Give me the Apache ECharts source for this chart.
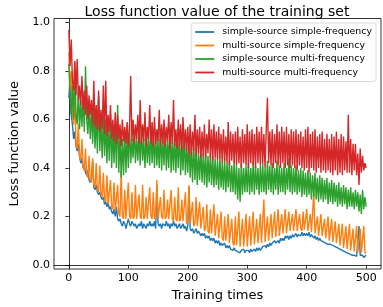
<!DOCTYPE html>
<html><head><meta charset="utf-8">
<script src="https://cdn.jsdelivr.net/npm/echarts@6/dist/echarts.min.js"></script>
<style>html,body{margin:0;padding:0;background:#fff}#c{width:383px;height:307px}</style>
</head><body><div id="c"></div>
<script>
const times = [0,2,4,6,8,10,12,14,16,18,20,22,24,26,28,30,32,34,36,38,
40,42,44,46,48,50,52,54,56,58,60,62,64,66,68,70,72,74,76,78,
80,82,84,86,88,90,92,94,96,98,100,102,104,106,108,110,112,114,116,118,
120,122,124,126,128,130,132,134,136,138,140,142,144,146,148,150,152,154,156,158,
160,162,164,166,168,170,172,174,176,178,180,182,184,186,188,190,192,194,196,198,
200,202,204,206,208,210,212,214,216,218,220,222,224,226,228,230,232,234,236,238,
240,242,244,246,248,250,252,254,256,258,260,262,264,266,268,270,272,274,276,278,
280,282,284,286,288,290,292,294,296,298,300,302,304,306,308,310,312,314,316,318,
320,322,324,326,328,330,332,334,336,338,340,342,344,346,348,350,352,354,356,358,
360,362,364,366,368,370,372,374,376,378,380,382,384,386,388,390,392,394,396,398,
400,402,404,406,408,410,412,414,416,418,420,422,424,426,428,430,432,434,436,438,
440,442,444,446,448,450,452,454,456,458,460,462,464,466,468,470,472,474,476,478,
480,482,484,486,488,490,492,494,496,498,500];
const seriesNames = ['simple-source simple-frequency','multi-source simple-frequency','simple-source multi-frequency','multi-source multi-frequency'];
const ssSf = [0.69,0.78,0.62,0.58,0.52,0.55,0.49,0.47,0.50,0.45,
0.42,0.44,0.40,0.41,0.38,0.37,0.39,0.35,0.34,0.36,
0.43,0.32,0.31,0.33,0.30,0.29,0.30,0.28,0.27,0.28,
0.25,0.26,0.24,0.26,0.23,0.24,0.22,0.21,0.23,0.20,
0.24,0.19,0.18,0.19,0.17,0.16,0.18,0.17,0.15,0.17,
0.19,0.17,0.16,0.18,0.17,0.16,0.17,0.15,0.16,0.17,
0.16,0.18,0.15,0.17,0.16,0.15,0.17,0.16,0.18,0.16,
0.17,0.16,0.18,0.15,0.33,0.17,0.16,0.17,0.15,0.17,
0.17,0.16,0.18,0.16,0.17,0.15,0.17,0.16,0.18,0.16,
0.17,0.15,0.16,0.17,0.15,0.16,0.17,0.15,0.16,0.14,
0.16,0.32,0.15,0.14,0.15,0.13,0.14,0.15,0.13,0.14,
0.14,0.12,0.13,0.12,0.13,0.11,0.12,0.11,0.12,0.10,
0.11,0.10,0.11,0.09,0.10,0.09,0.10,0.08,0.09,0.08,
0.08,0.09,0.07,0.08,0.07,0.08,0.065,0.07,0.06,0.07,
0.06,0.065,0.055,0.06,0.05,0.06,0.055,0.065,0.05,0.06,
0.055,0.06,0.05,0.065,0.055,0.06,0.065,0.055,0.07,0.06,
0.07,0.06,0.065,0.075,0.07,0.08,0.07,0.085,0.075,0.09,
0.08,0.09,0.085,0.10,0.09,0.095,0.10,0.09,0.11,0.10,
0.11,0.10,0.12,0.11,0.12,0.105,0.12,0.11,0.125,0.115,
0.12,0.13,0.115,0.125,0.13,0.12,0.135,0.12,0.13,0.12,
0.13,0.12,0.135,0.115,0.125,0.12,0.11,0.12,0.105,0.115,
0.10,0.11,0.10,0.105,0.095,0.10,0.09,0.095,0.085,0.09,
0.085,0.09,0.08,0.085,0.075,0.08,0.07,0.075,0.065,0.07,
0.06,0.065,0.055,0.06,0.05,0.055,0.045,0.05,0.04,0.045,
0.04,0.045,0.035,0.04,0.16,0.04,0.035,0.04,0.03,0.035,
0.04];
const msSf = [0.88,0.72,0.80,0.62,0.58,0.70,0.50,0.48,0.58,0.45,
0.43,0.52,0.40,0.39,0.48,0.37,0.36,0.45,0.35,0.34,
0.44,0.33,0.32,0.42,0.31,0.30,0.41,0.29,0.28,0.38,
0.27,0.26,0.37,0.25,0.25,0.35,0.24,0.23,0.34,0.22,
0.22,0.33,0.21,0.20,0.39,0.20,0.19,0.31,0.19,0.19,
0.34,0.20,0.19,0.30,0.19,0.20,0.33,0.19,0.19,0.29,
0.20,0.19,0.33,0.19,0.20,0.28,0.19,0.19,0.32,0.20,
0.19,0.30,0.19,0.20,0.35,0.19,0.19,0.28,0.20,0.19,
0.31,0.19,0.20,0.27,0.19,0.19,0.31,0.19,0.18,0.28,
0.19,0.18,0.32,0.18,0.19,0.27,0.18,0.18,0.30,0.17,
0.18,0.33,0.17,0.17,0.26,0.16,0.17,0.28,0.16,0.16,
0.26,0.15,0.15,0.24,0.14,0.15,0.25,0.14,0.13,0.23,
0.13,0.13,0.25,0.12,0.12,0.21,0.11,0.11,0.22,0.11,
0.10,0.20,0.10,0.10,0.21,0.09,0.09,0.19,0.09,0.08,
0.20,0.08,0.08,0.22,0.075,0.08,0.19,0.075,0.08,0.21,
0.075,0.08,0.20,0.08,0.08,0.22,0.085,0.08,0.19,0.09,
0.085,0.21,0.09,0.09,0.27,0.095,0.10,0.20,0.10,0.105,
0.21,0.11,0.11,0.22,0.115,0.12,0.23,0.12,0.125,0.21,
0.13,0.13,0.23,0.13,0.135,0.22,0.14,0.14,0.21,0.14,
0.145,0.23,0.14,0.145,0.21,0.15,0.14,0.22,0.145,0.14,
0.23,0.14,0.14,0.21,0.135,0.13,0.30,0.13,0.13,0.20,
0.12,0.125,0.21,0.12,0.115,0.19,0.11,0.11,0.20,0.10,
0.10,0.19,0.095,0.09,0.18,0.09,0.085,0.17,0.08,0.075,
0.17,0.07,0.07,0.16,0.065,0.06,0.17,0.06,0.055,0.15,
0.055,0.05,0.16,0.05,0.045,0.15,0.05,0.045,0.16,0.05,
0.05];
const ssMf = [0.83,0.70,0.62,0.74,0.60,0.84,0.62,0.58,0.72,0.56,
0.68,0.57,0.70,0.55,0.82,0.60,0.54,0.66,0.52,0.64,
0.50,0.65,0.48,0.62,0.46,0.70,0.47,0.60,0.44,0.62,
0.45,0.60,0.42,0.58,0.43,0.62,0.40,0.56,0.42,0.58,
0.40,0.66,0.38,0.55,0.36,0.52,0.37,0.56,0.38,0.54,
0.40,0.58,0.42,0.52,0.44,0.56,0.42,0.53,0.43,0.55,
0.41,0.57,0.43,0.52,0.40,0.55,0.42,0.53,0.41,0.56,
0.42,0.54,0.40,0.55,0.41,0.52,0.40,0.56,0.39,0.53,
0.41,0.55,0.39,0.52,0.40,0.57,0.38,0.52,0.39,0.54,
0.38,0.53,0.40,0.56,0.37,0.51,0.39,0.54,0.37,0.50,
0.38,0.51,0.36,0.49,0.34,0.50,0.35,0.48,0.33,0.47,
0.35,0.48,0.34,0.46,0.33,0.47,0.32,0.45,0.34,0.46,
0.33,0.45,0.32,0.44,0.33,0.43,0.31,0.45,0.32,0.42,
0.31,0.44,0.30,0.42,0.32,0.43,0.30,0.41,0.30,0.43,
0.29,0.41,0.27,0.40,0.26,0.42,0.29,0.40,0.30,0.41,
0.30,0.42,0.29,0.40,0.30,0.43,0.29,0.41,0.31,0.40,
0.29,0.41,0.30,0.42,0.30,0.40,0.29,0.43,0.31,0.41,
0.30,0.42,0.29,0.40,0.31,0.43,0.29,0.41,0.30,0.40,
0.30,0.42,0.29,0.40,0.31,0.44,0.30,0.41,0.29,0.40,
0.30,0.41,0.29,0.39,0.30,0.40,0.28,0.39,0.29,0.38,
0.28,0.39,0.29,0.38,0.27,0.37,0.28,0.38,0.27,0.36,
0.26,0.37,0.27,0.36,0.26,0.35,0.27,0.36,0.25,0.34,
0.26,0.35,0.25,0.34,0.26,0.33,0.24,0.34,0.25,0.32,
0.24,0.33,0.25,0.32,0.23,0.31,0.24,0.32,0.24,0.30,
0.23,0.31,0.24,0.30,0.22,0.29,0.21,0.31,0.23,0.28,
0.24];
const msMf = [0.97,0.82,0.93,0.76,0.72,0.84,0.70,0.85,0.68,0.74,
0.66,0.78,0.64,0.72,0.62,0.74,0.60,0.70,0.62,0.68,
0.58,0.76,0.57,0.66,0.56,0.72,0.55,0.64,0.56,0.74,
0.54,0.76,0.53,0.62,0.55,0.66,0.52,0.60,0.51,0.63,
0.50,0.62,0.52,0.58,0.49,0.60,0.51,0.57,0.50,0.59,
0.49,0.56,0.78,0.51,0.60,0.50,0.58,0.52,0.62,0.50,
0.68,0.50,0.58,0.51,0.63,0.49,0.57,0.52,0.66,0.50,
0.59,0.49,0.61,0.50,0.56,0.51,0.64,0.49,0.58,0.50,
0.60,0.49,0.57,0.51,0.62,0.48,0.59,0.50,0.68,0.49,
0.56,0.48,0.60,0.49,0.58,0.47,0.61,0.48,0.56,0.47,
0.57,0.46,0.58,0.45,0.55,0.47,0.62,0.45,0.56,0.46,
0.57,0.44,0.55,0.45,0.58,0.44,0.54,0.46,0.60,0.44,
0.56,0.43,0.58,0.44,0.55,0.43,0.57,0.44,0.54,0.42,
0.56,0.43,0.53,0.42,0.59,0.41,0.55,0.43,0.54,0.42,
0.55,0.41,0.57,0.42,0.53,0.40,0.56,0.42,0.54,0.41,
0.58,0.40,0.55,0.42,0.56,0.41,0.54,0.40,0.57,0.42,
0.55,0.41,0.57,0.42,0.54,0.40,0.56,0.69,0.42,0.55,
0.41,0.56,0.40,0.54,0.42,0.58,0.41,0.55,0.40,0.57,
0.42,0.55,0.40,0.57,0.41,0.54,0.40,0.56,0.41,0.55,
0.40,0.56,0.39,0.54,0.41,0.55,0.40,0.53,0.39,0.56,
0.40,0.57,0.38,0.54,0.40,0.55,0.39,0.56,0.38,0.53,
0.40,0.54,0.38,0.55,0.39,0.52,0.38,0.54,0.39,0.52,
0.38,0.54,0.37,0.53,0.39,0.55,0.37,0.52,0.38,0.54,
0.37,0.53,0.39,0.51,0.38,0.62,0.38,0.52,0.37,0.50,
0.39,0.50,0.37,0.46,0.33,0.48,0.38,0.45,0.39,0.42,
0.40];
const xTicks = [0,100,200,300,400,500];
const yTicks = [0,0.2,0.4,0.6,0.8,1.0];
const colors = ['#1f77b4','#ff7f0e','#2ca02c','#d62728'];
const allData = [ssSf, msSf, ssMf, msMf];

const FONT = 'DejaVu Sans';
const chart = echarts.init(document.getElementById('c'), null, {renderer:'canvas'});
chart.setOption({
  animation:false,
  backgroundColor:'#fff',
  textStyle:{fontFamily:FONT},
  title:{text:'Loss function value of the training set', left:212, textAlign:'center', top:0,
    textStyle:{fontFamily:FONT, fontSize:14, fontWeight:'normal', color:'#000'}},
  grid:{left:43, right:2, top:18.5, bottom:35, show:true, borderColor:'#000', borderWidth:0.8, containLabel:false},
  legend:{orient:'vertical', right:7, top:23, padding:[3.5,4,3.5,4], itemGap:2.5,
    itemWidth:19, itemHeight:1.8, icon:'rect',
    backgroundColor:'rgba(255,255,255,0.8)', borderColor:'#d0d0d0', borderWidth:0.8, borderRadius:2,
    textStyle:{fontFamily:FONT, fontSize:9.4, color:'#000', lineHeight:11, padding:[0,0,0,3]},
    data:seriesNames},
  xAxis:{type:'value', min:-25, max:525, name:'Training times', nameLocation:'middle', nameGap:20,
    nameTextStyle:{fontFamily:FONT, fontSize:13, color:'#000'},
    axisLine:{show:true, lineStyle:{color:'#000', width:0.8}},
    axisTick:{show:true, length:3.5, lineStyle:{color:'#000', width:0.8}, customValues:xTicks},
    axisLabel:{color:'#000', fontFamily:FONT, fontSize:11, margin:4, customValues:xTicks},
    splitLine:{show:false}},
  yAxis:{type:'value', min:-0.017, max:1.017, name:'Loss function value', nameLocation:'middle', nameGap:33,
    nameTextStyle:{fontFamily:FONT, fontSize:13, color:'#000'},
    axisLine:{show:true, lineStyle:{color:'#000', width:0.8}},
    axisTick:{show:true, length:3.5, lineStyle:{color:'#000', width:0.8}, customValues:yTicks},
    axisLabel:{color:'#000', fontFamily:FONT, fontSize:11, margin:4, customValues:yTicks,
      formatter:v=>v.toFixed(1)},
    splitLine:{show:false}},
  series: allData.map((d,k)=>({
    name:seriesNames[k], type:'line', symbol:'none', showSymbol:false,
    color:colors[k],
    lineStyle:{width:1.4, color:colors[k]},
    data: d.map((v,i)=>[times[i], v])
  }))
});
</script></body></html>
